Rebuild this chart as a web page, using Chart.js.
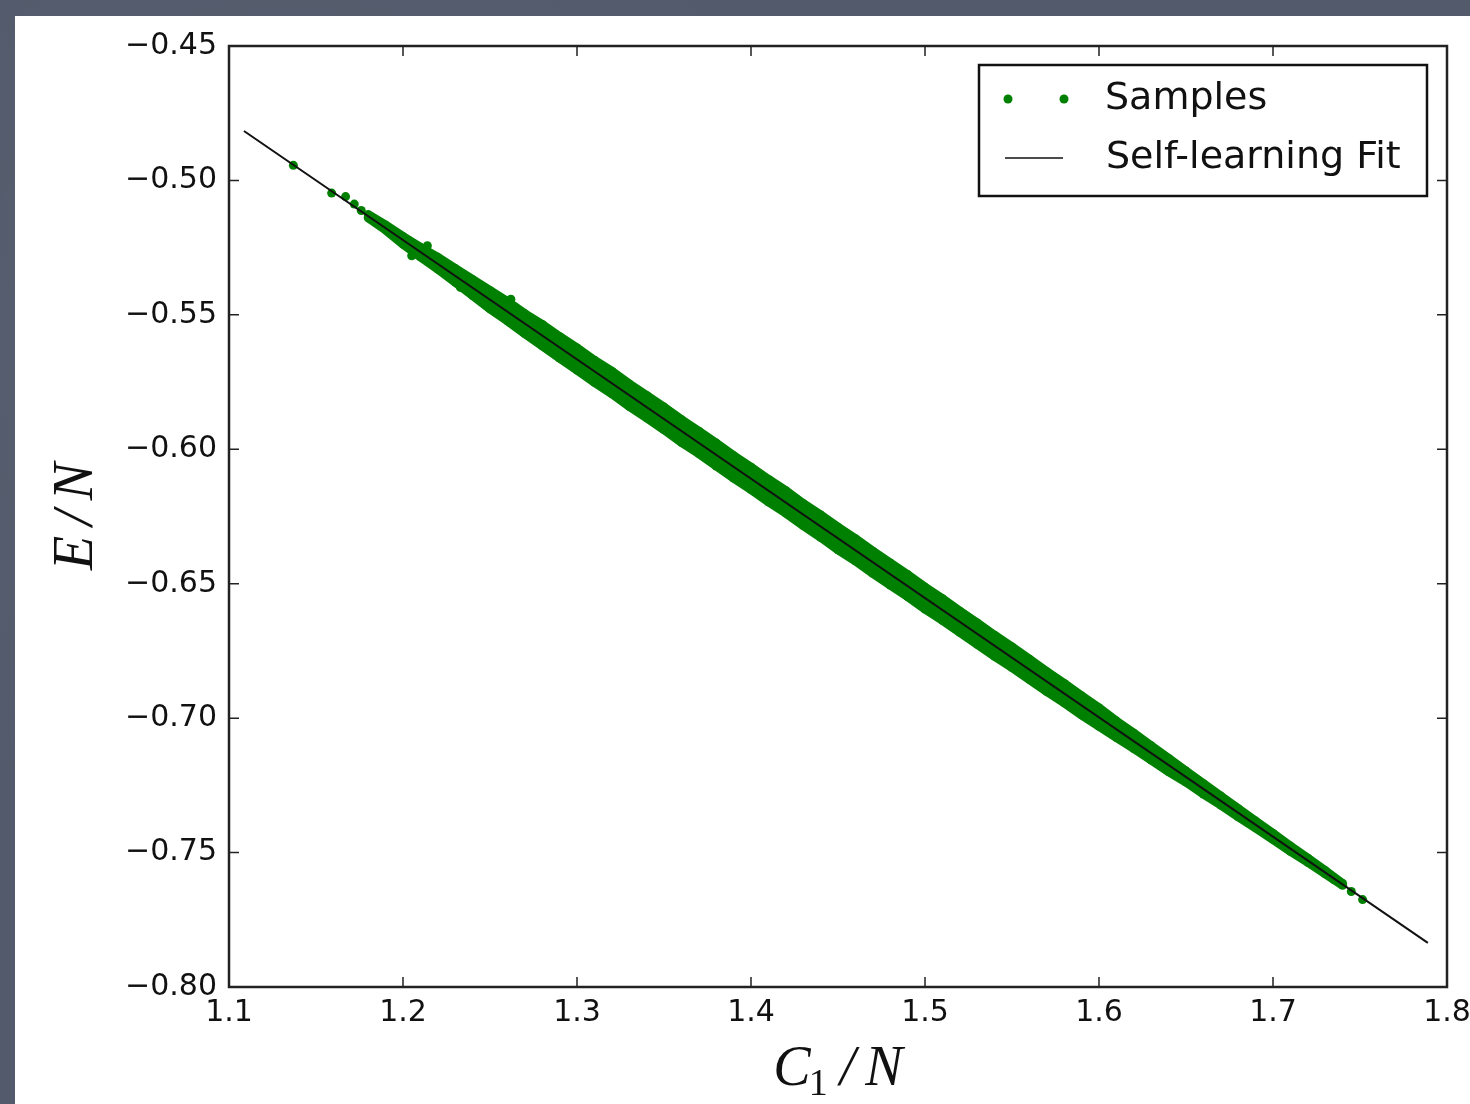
<!DOCTYPE html>
<html>
<head>
<meta charset="utf-8">
<script src="https://cdn.jsdelivr.net/npm/chart.js@4/dist/chart.umd.min.js"></script>
<style>
  html, body { margin: 0; padding: 0; }
  body {
    width: 1470px; height: 1104px; overflow: hidden;
    background: #525a6b;
    background-image:
      radial-gradient(circle at 20% 30%, rgba(255,255,255,0.04) 0, transparent 40%),
      radial-gradient(circle at 80% 70%, rgba(0,0,0,0.06) 0, transparent 45%);
    position: relative;
  }
  #panel { position: absolute; left: 15px; top: 16px; width: 1455px; height: 1088px; background: #fff; }
  #chart { position: absolute; left: 0; top: 0; }
</style>
</head>
<body>
<div id="panel"><canvas id="chart" width="1455" height="1088"></canvas></div>
<script>
// ---- data ----
// sample band: upper / lower edge of the green cloud at each C1/N
const bandX = [1.18, 1.19, 1.20, 1.21, 1.22, 1.23, 1.24, 1.25, 1.26, 1.27,
  1.28, 1.29, 1.30, 1.31, 1.32, 1.33, 1.34, 1.35, 1.36, 1.37,
  1.38, 1.39, 1.40, 1.41, 1.42, 1.43, 1.44, 1.45, 1.46, 1.47,
  1.48, 1.49, 1.50, 1.51, 1.52, 1.53, 1.54, 1.55, 1.56, 1.57,
  1.58, 1.59, 1.60, 1.61, 1.62, 1.63, 1.64, 1.65, 1.66, 1.67,
  1.68, 1.69, 1.70, 1.71, 1.72, 1.73, 1.74];
const bandUpper = [-0.5127, -0.5166, -0.5209, -0.5249, -0.5286, -0.5328, -0.5369, -0.5410, -0.5450, -0.5496,
  -0.5536, -0.5581, -0.5623, -0.5669, -0.5710, -0.5757, -0.5800, -0.5843, -0.5890, -0.5933,
  -0.5977, -0.6024, -0.6067, -0.6112, -0.6154, -0.6202, -0.6244, -0.6290, -0.6333, -0.6379,
  -0.6423, -0.6466, -0.6513, -0.6556, -0.6602, -0.6646, -0.6692, -0.6735, -0.6781, -0.6827,
  -0.6871, -0.6917, -0.6962, -0.7011, -0.7056, -0.7103, -0.7150, -0.7197, -0.7244, -0.7290,
  -0.7337, -0.7383, -0.7429, -0.7476, -0.7521, -0.7567, -0.7615];
const bandLower = [-0.5139, -0.5184, -0.5237, -0.5284, -0.5330, -0.5378, -0.5428, -0.5478, -0.5522, -0.5570,
  -0.5615, -0.5661, -0.5705, -0.5751, -0.5793, -0.5840, -0.5883, -0.5927, -0.5974, -0.6016,
  -0.6062, -0.6107, -0.6150, -0.6195, -0.6237, -0.6284, -0.6327, -0.6374, -0.6415, -0.6461,
  -0.6505, -0.6548, -0.6594, -0.6636, -0.6681, -0.6725, -0.6770, -0.6812, -0.6856, -0.6901,
  -0.6943, -0.6988, -0.7030, -0.7072, -0.7113, -0.7156, -0.7199, -0.7238, -0.7282, -0.7323,
  -0.7367, -0.7408, -0.7451, -0.7495, -0.7536, -0.7579, -0.7622];
// isolated samples at the two ends and a few stragglers off the band
const looseX = [1.137, 1.159, 1.167, 1.172, 1.176, 1.205, 1.214, 1.233, 1.262, 1.735, 1.745, 1.7515];
const looseY = [-0.4944, -0.5047, -0.5060, -0.5088, -0.5112, -0.5280, -0.5243, -0.5398, -0.5442, -0.7600, -0.7645, -0.7675];
// self-learning fit
const fitX = [1.1086, 1.789];
const fitY = [-0.4816, -0.7836];

const xTicks = [1.1, 1.2, 1.3, 1.4, 1.5, 1.6, 1.7, 1.8];
const yTicks = [-0.45, -0.50, -0.55, -0.60, -0.65, -0.70, -0.75, -0.80];

const GREEN = "#008000";
const MATH_FONT = "italic 56px 'Liberation Serif'";
const SUB_FONT = "38px 'Liberation Serif'";

const pts = (xs, ys) => xs.map((x, i) => ({ x: x, y: ys[i] }));

// spines, inward ticks, axis titles and legend
const frame = {
  id: "frame",
  afterDraw(chart) {
    const ctx = chart.ctx;
    const a = chart.chartArea;
    const sx = chart.scales.x, sy = chart.scales.y;
    ctx.save();
    ctx.strokeStyle = "#222";
    ctx.lineWidth = 1.5;
    ctx.beginPath();
    xTicks.forEach(v => {
      const px = sx.getPixelForValue(v);
      ctx.moveTo(px, a.bottom); ctx.lineTo(px, a.bottom - 10);
      ctx.moveTo(px, a.top); ctx.lineTo(px, a.top + 10);
    });
    yTicks.forEach(v => {
      const py = sy.getPixelForValue(v);
      ctx.moveTo(a.left, py); ctx.lineTo(a.left + 10, py);
      ctx.moveTo(a.right, py); ctx.lineTo(a.right - 10, py);
    });
    ctx.stroke();
    ctx.lineWidth = 2.5;
    ctx.strokeRect(a.left, a.top, a.right - a.left, a.bottom - a.top);

    // x title: C_1 / N
    ctx.fillStyle = "#111";
    ctx.textBaseline = "alphabetic";
    ctx.font = MATH_FONT;
    const wC = ctx.measureText("C").width;
    const wSl = ctx.measureText("/").width;
    const wN = ctx.measureText("N").width;
    ctx.font = SUB_FONT;
    const w1 = ctx.measureText("1").width;
    const gap = 10;
    const total = wC + w1 + gap + wSl + gap + wN;
    let cx = (a.left + a.right) / 2 - total / 2;
    const by = 1069;
    ctx.font = MATH_FONT;
    ctx.fillText("C", cx, by); cx += wC;
    ctx.font = SUB_FONT;
    ctx.fillText("1", cx - 2, by + 10); cx += w1 + gap;
    ctx.font = MATH_FONT;
    ctx.fillText("/", cx, by); cx += wSl + gap;
    ctx.fillText("N", cx, by);

    // y title: E / N, rotated
    ctx.save();
    ctx.translate(77, (a.top + a.bottom) / 2);
    ctx.rotate(-Math.PI / 2);
    const wE = ctx.measureText("E").width;
    const tot2 = wE + gap + wSl + gap + wN;
    let ex = -tot2 / 2;
    ctx.fillText("E", ex, 0); ex += wE + gap;
    ctx.fillText("/", ex, 0); ex += wSl + gap;
    ctx.fillText("N", ex, 0);
    ctx.restore();

    // legend
    ctx.lineWidth = 2.5;
    ctx.strokeStyle = "#111";
    ctx.fillStyle = "#fff";
    ctx.fillRect(964, 49, 448, 131);
    ctx.strokeRect(964, 49, 448, 131);
    ctx.fillStyle = GREEN;
    [993, 1049].forEach(px => {
      ctx.beginPath(); ctx.arc(px, 83, 4.5, 0, Math.PI * 2); ctx.fill();
    });
    ctx.strokeStyle = "#111";
    ctx.lineWidth = 1.5;
    ctx.beginPath(); ctx.moveTo(990, 142); ctx.lineTo(1048, 142); ctx.stroke();
    ctx.fillStyle = "#111";
    ctx.font = "38px 'DejaVu Sans'";
    ctx.textBaseline = "middle";
    ctx.fillText("Samples", 1090, 83);
    ctx.fillText("Self-learning Fit", 1091, 142);
    ctx.restore();
  }
};

new Chart(document.getElementById("chart"), {
  type: "line",
  data: {
    datasets: [
      {
        label: "Self-learning Fit",
        data: pts(fitX, fitY),
        borderColor: "#111",
        borderWidth: 2,
        pointRadius: 0,
        fill: false
      },
      {
        label: "Samples",
        data: pts(looseX, looseY),
        showLine: false,
        pointRadius: 4.5,
        pointBackgroundColor: GREEN,
        pointBorderWidth: 0
      },
      {
        label: "band upper",
        data: pts(bandX, bandUpper),
        borderColor: GREEN,
        borderWidth: 9,
        backgroundColor: GREEN,
        pointRadius: 4.5,
        pointBackgroundColor: GREEN,
        pointBorderWidth: 0,
        fill: "+1"
      },
      {
        label: "band lower",
        data: pts(bandX, bandLower),
        borderColor: GREEN,
        borderWidth: 9,
        pointRadius: 4.5,
        pointBackgroundColor: GREEN,
        pointBorderWidth: 0,
        fill: false
      }
    ]
  },
  options: {
    responsive: false,
    animation: false,
    devicePixelRatio: 1,
    layout: { padding: { left: 0, top: 30, right: 23, bottom: 0 } },
    plugins: { legend: { display: false }, tooltip: { enabled: false } },
    scales: {
      x: {
        type: "linear",
        min: 1.1, max: 1.8,
        afterFit: s => { s.height = 117; s.paddingLeft = 0; s.paddingRight = 0; },
        afterBuildTicks: s => { s.ticks = xTicks.map(v => ({ value: v })); },
        grid: { display: false, drawTicks: false },
        border: { display: false },
        ticks: {
          padding: 8,
          color: "#111",
          font: { family: "DejaVu Sans", size: 30 },
          maxRotation: 0,
          callback: v => v.toFixed(1)
        }
      },
      y: {
        type: "linear",
        min: -0.8, max: -0.45,
        afterFit: s => { s.width = 214; s.paddingTop = 0; s.paddingBottom = 0; },
        afterBuildTicks: s => { s.ticks = yTicks.map(v => ({ value: v })); },
        grid: { display: false, drawTicks: false },
        border: { display: false },
        ticks: {
          padding: 12,
          color: "#111",
          font: { family: "DejaVu Sans", size: 30 },
          callback: v => (v < 0 ? "\u2212" : "") + Math.abs(v).toFixed(2)
        }
      }
    }
  },
  plugins: [frame]
});
</script>
</body>
</html>
